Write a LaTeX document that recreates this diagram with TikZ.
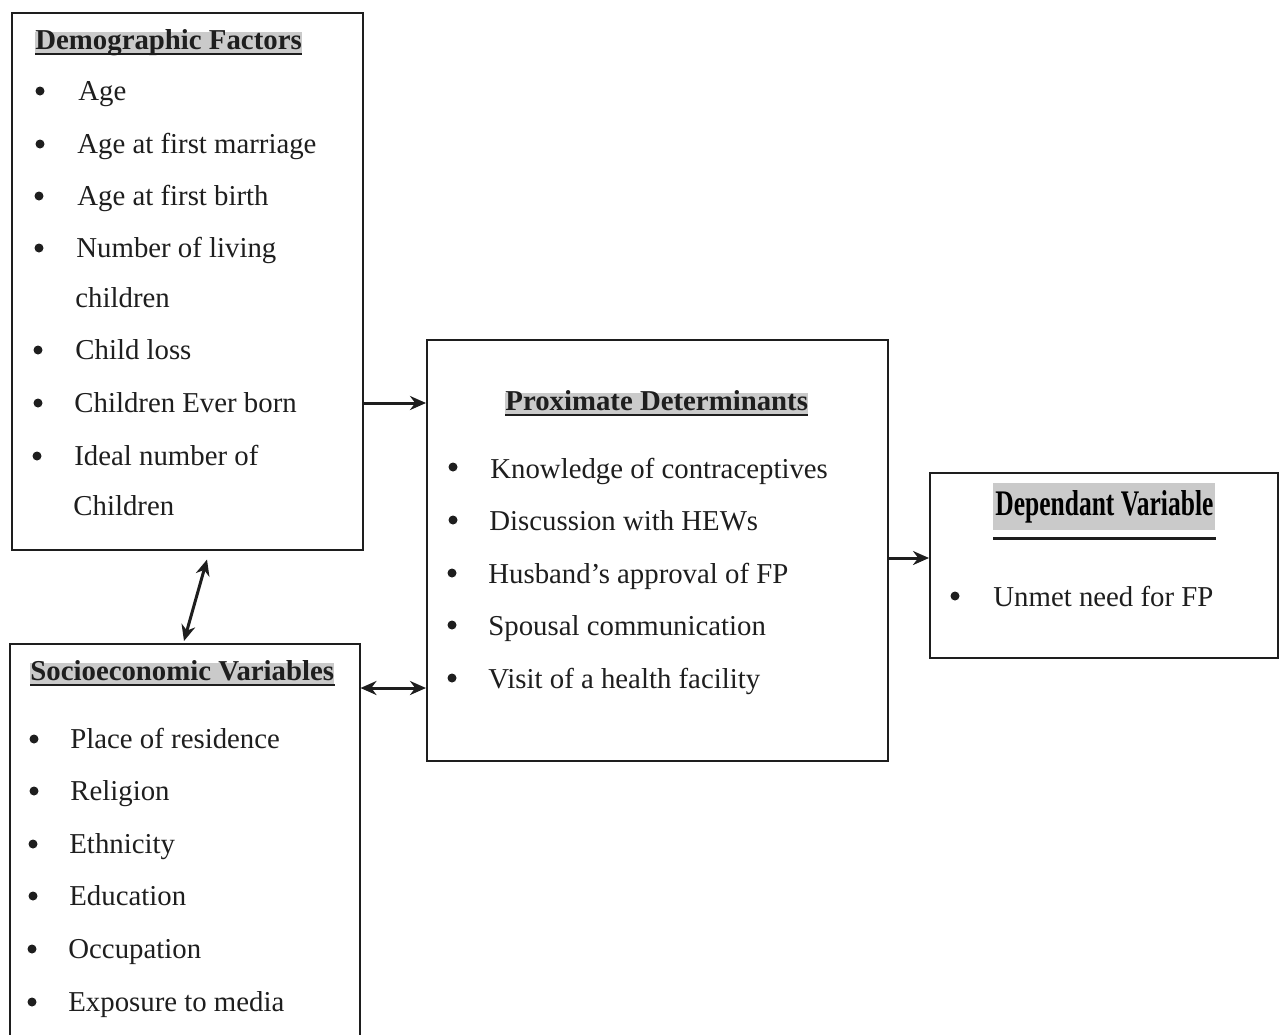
\documentclass[tikz,border=0pt]{standalone}
\usepackage{fontspec}
\setmainfont{Liberation Serif}
\usetikzlibrary{arrows.meta,calc}
\definecolor{headgray}{RGB}{202,202,202}
\definecolor{ink}{RGB}{30,30,30}
\tikzset{
  boxst/.style={draw=ink, line width=0.75pt, inner sep=0pt, anchor=north west},
  item/.style={anchor=base west, inner sep=0pt, text=ink},
  bul/.style={circle, fill=ink, minimum size=4.5pt, inner sep=0pt},
  head/.style={anchor=base west, font=\fontsize{14.4}{16}\selectfont\bfseries, fill=headgray, inner xsep=0pt, inner ysep=0.3pt, text height=0.82em, text depth=0.2em, text=ink},
  ul/.style={draw=ink, line width=1.1pt},
  arr/.style={draw=ink, line width=1.5pt, -{Stealth[length=8pt,width=7pt]}},
  arrb/.style={draw=ink, line width=1.5pt, {Stealth[length=8pt,width=7pt]}-{Stealth[length=8pt,width=7pt]}}
}
\begin{document}
\begin{tikzpicture}[x=0.5pt,y=-0.5pt,font=\fontsize{14.4}{16}\selectfont]
\useasboundingbox (0,0) rectangle (1280,1034);
\fill[white] (0,0) rectangle (1280,1034);
\clip (0,0) rectangle (1280,1034);

% boxes
\node[boxst, minimum width=175.5pt, minimum height=268.5pt] (demo) at (11,12) {};
\node[boxst, minimum width=175pt, minimum height=215pt] (socio) at (9,643) {};
\node[boxst, minimum width=230.5pt, minimum height=210.5pt] (prox) at (426,339) {};
\node[boxst, minimum width=174pt, minimum height=92.5pt] (dep) at (929,472) {};

% Demographic Factors
\node[head] (dh) at (35,49) {Demographic Factors};
\draw[ul] (dh.south west) -- (dh.south east);
\node[bul] (d1b) at (40,91) {}; \node[item] (d1) at (78,100) {Age};
\node[bul] (d2b) at (40,144) {}; \node[item] (d2) at (77,153) {Age at first marriage};
\node[bul] (d3b) at (39,196) {}; \node[item] (d3) at (77,205) {Age at first birth};
\node[bul] (d4b) at (39,248) {}; \node[item] (d4) at (76,257) {Number of living};
\node[item] (d4c) at (75,307) {children};
\node[bul] (d5b) at (38,350) {}; \node[item] (d5) at (75,359) {Child loss};
\node[bul] (d6b) at (38,403) {}; \node[item] (d6) at (74,412) {Children Ever born};
\node[bul] (d7b) at (37,456) {}; \node[item] (d7) at (74,465) {Ideal number of};
\node[item] (d7c) at (73,515) {Children};

% Socioeconomic Variables
\node[head] (sh) at (30,680) {Socioeconomic Variables};
\draw[ul] (sh.south west) -- (sh.south east);
\node[bul] (s1b) at (34,739) {}; \node[item] (s1) at (70,748) {Place of residence};
\node[bul] (s2b) at (34,791) {}; \node[item] (s2) at (70,800) {Religion};
\node[bul] (s3b) at (33,844) {}; \node[item] (s3) at (69,853) {Ethnicity};
\node[bul] (s4b) at (33,896) {}; \node[item] (s4) at (69,905) {Education};
\node[bul] (s5b) at (32,949) {}; \node[item] (s5) at (68,958) {Occupation};
\node[bul] (s6b) at (32,1002) {}; \node[item] (s6) at (68,1011) {Exposure to media};

% Proximate Determinants
\node[head] (ph) at (505,410) {Proximate Determinants};
\draw[ul] (ph.south west) -- (ph.south east);
\node[bul] (p1b) at (453,467) {}; \node[item] (p1) at (490,478) {Knowledge of contraceptives};
\node[bul] (p2b) at (453,520) {}; \node[item] (p2) at (489,530) {Discussion with HEWs};
\node[bul] (p3b) at (452,573) {}; \node[item] (p3) at (488,583) {Husband’s approval of FP};
\node[bul] (p4b) at (452,625) {}; \node[item] (p4) at (488,635) {Spousal communication};
\node[bul] (p5b) at (452,678) {}; \node[item] (p5) at (488,688) {Visit of a health facility};

% Dependant Variable
\node[anchor=west, fill=headgray, inner sep=0pt, minimum width=111pt, minimum height=23.5pt, text=black] (vh) at (993,506.5)
  {\resizebox{109pt}{\height}{\fontsize{18}{20}\selectfont\bfseries Dependant Variable}};
\draw[draw=ink, line width=1.4pt] ($(vh.south west)+(0,8)$) -- ($(vh.south east)+(0,8)$);
\node[bul] (v1b) at (955,596) {}; \node[item] (v1) at (993,606) {Unmet need for FP};

% connectors
\draw[arr] (demo.east |- 0,403) -- (prox.west |- 0,403);
\draw[arrb] (socio.east |- 0,688) -- (prox.west |- 0,688);
\draw[arr] (prox.east |- 0,558) -- (dep.west |- 0,558);
\draw[arrb] ($(demo.south west)+(196,9)$) -- ($(socio.north west)+(175,-2)$);
\end{tikzpicture}
\end{document}
